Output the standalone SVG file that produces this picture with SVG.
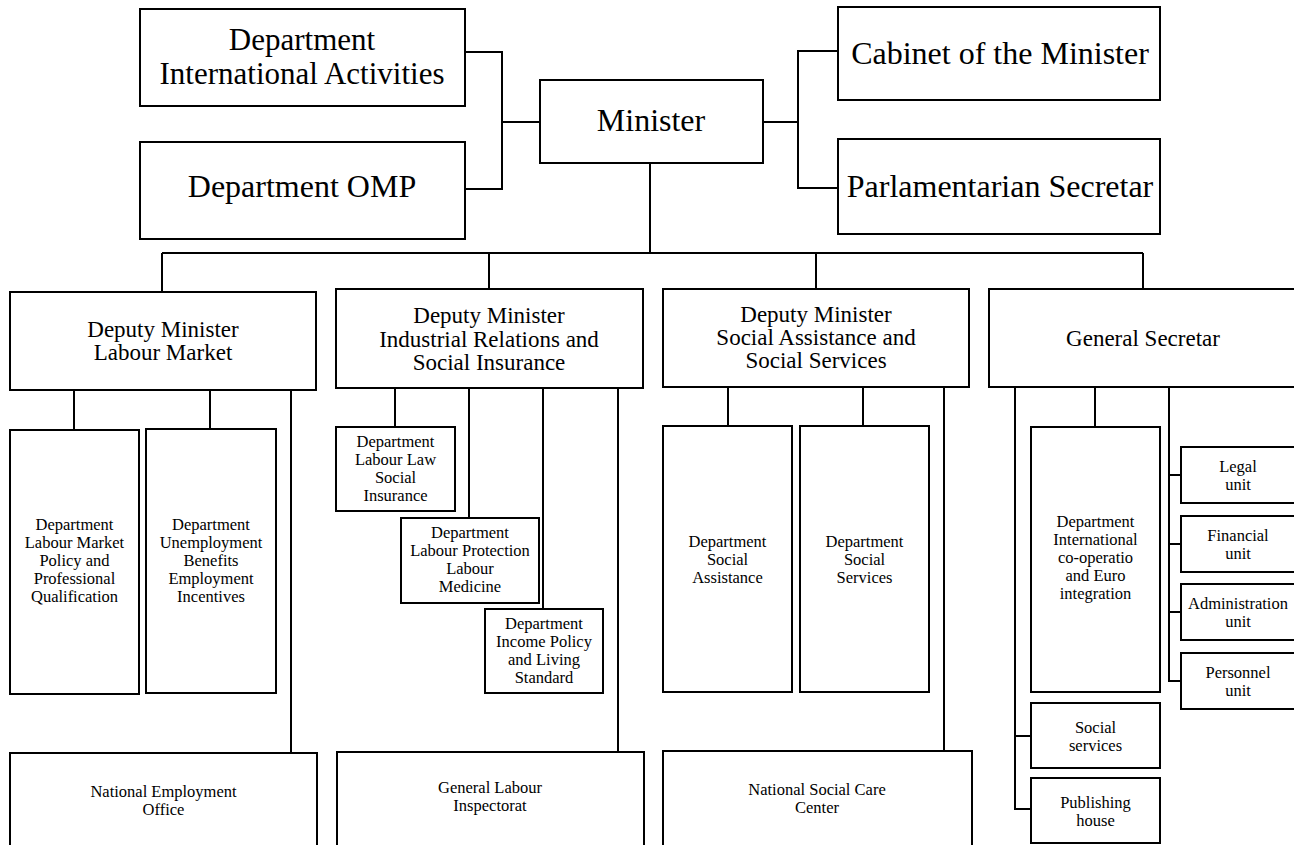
<svg xmlns="http://www.w3.org/2000/svg" width="1294" height="845" viewBox="0 0 1294 845">
<style>
.box{fill:#fff;stroke:#000;stroke-width:2}
.ln{fill:none;stroke:#000;stroke-width:2}
text{font-family:"Liberation Serif","Times New Roman",serif;fill:#000;text-anchor:middle}
.t1{font-size:32px}
.t1s{font-size:31px}
.t2{font-size:23px}
.t3{font-size:16.5px}
</style>
<rect width="1294" height="845" fill="#fff"/>
<g id="connectors">
<path class="ln" d="M465,52 H502 V189 H465 M502,122 H540"/>
<path class="ln" d="M763,122 H798 M838,51 H798 V188 H838"/>
<path class="ln" d="M650,163 V253 M162,253 H1143 M162,253 V292 M489,253 V289 M816,253 V289 M1143,253 V289"/>
<path class="ln" d="M74,390 V430 M210,390 V429 M291,390 V753"/>
<path class="ln" d="M395,388 V427 M469,388 V518 M543,388 V609 M618,388 V752"/>
<path class="ln" d="M728,387 V426 M863,387 V426 M944,387 V751"/>
<path class="ln" d="M1095,387 V427 M1015,387 V809 H1031 M1015,736 H1031"/>
<path class="ln" d="M1169,387 V681 H1181 M1169,475 H1181 M1169,544 H1181 M1169,612 H1181"/>
</g>
<g id="dept-intl"><rect class="box" x="140" y="9" width="325" height="97"/><text class="t1s" x="302" y="50">Department</text><text class="t1s" x="302" y="84">International Activities</text></g>
<g id="dept-omp"><rect class="box" x="140" y="142" width="325" height="97"/><text class="t1" x="302" y="197">Department OMP</text></g>
<g id="minister"><rect class="box" x="540" y="80" width="223" height="83"/><text class="t1" x="651" y="131">Minister</text></g>
<g id="cabinet"><rect class="box" x="838" y="7" width="322" height="93"/><text class="t1" x="1000" y="64">Cabinet of the Minister</text></g>
<g id="parl"><rect class="box" x="838" y="139" width="322" height="95"/><text class="t1" x="1000" y="197">Parlamentarian Secretar</text></g>
<g id="dm-lm"><rect class="box" x="10" y="292" width="306" height="98"/><text class="t2" x="163" y="337">Deputy Minister</text><text class="t2" x="163" y="360">Labour Market</text></g>
<g id="dm-ir"><rect class="box" x="336" y="289" width="307" height="99"/><text class="t2" x="489" y="323">Deputy Minister</text><text class="t2" x="489" y="347">Industrial Relations and</text><text class="t2" x="489" y="370">Social Insurance</text></g>
<g id="dm-sa"><rect class="box" x="663" y="289" width="306" height="98"/><text class="t2" x="816" y="322">Deputy Minister</text><text class="t2" x="816" y="345">Social Assistance and</text><text class="t2" x="816" y="368">Social Services</text></g>
<g id="gen-sec"><rect class="box" x="989" y="289" width="312" height="98"/><text class="t2" x="1143" y="346">General Secretar</text></g>
<g id="d-lmp"><rect class="box" x="10" y="430" width="129" height="264"/><text class="t3" x="74.5" y="530">Department</text><text class="t3" x="74.5" y="548">Labour Market</text><text class="t3" x="74.5" y="566">Policy and</text><text class="t3" x="74.5" y="584">Professional</text><text class="t3" x="74.5" y="602">Qualification</text></g>
<g id="d-ub"><rect class="box" x="146" y="429" width="130" height="264"/><text class="t3" x="211" y="530">Department</text><text class="t3" x="211" y="548">Unemployment</text><text class="t3" x="211" y="566">Benefits</text><text class="t3" x="211" y="584">Employment</text><text class="t3" x="211" y="602">Incentives</text></g>
<g id="neo"><rect class="box" x="10" y="753" width="307" height="94"/><text class="t3" x="163.5" y="797">National Employment</text><text class="t3" x="163.5" y="815">Office</text></g>
<g id="d-ll"><rect class="box" x="336" y="427" width="119" height="84"/><text class="t3" x="395.5" y="447">Department</text><text class="t3" x="395.5" y="465">Labour Law</text><text class="t3" x="395.5" y="483">Social</text><text class="t3" x="395.5" y="501">Insurance</text></g>
<g id="d-lp"><rect class="box" x="401" y="518" width="138" height="85"/><text class="t3" x="470" y="538">Department</text><text class="t3" x="470" y="556">Labour Protection</text><text class="t3" x="470" y="574">Labour</text><text class="t3" x="470" y="592">Medicine</text></g>
<g id="d-ip"><rect class="box" x="485" y="609" width="118" height="84"/><text class="t3" x="544" y="629">Department</text><text class="t3" x="544" y="647">Income Policy</text><text class="t3" x="544" y="665">and Living</text><text class="t3" x="544" y="683">Standard</text></g>
<g id="gli"><rect class="box" x="337" y="752" width="307" height="95"/><text class="t3" x="490" y="793">General Labour</text><text class="t3" x="490" y="811">Inspectorat</text></g>
<g id="d-sa"><rect class="box" x="663" y="426" width="129" height="266"/><text class="t3" x="727.5" y="547">Department</text><text class="t3" x="727.5" y="565">Social</text><text class="t3" x="727.5" y="583">Assistance</text></g>
<g id="d-ss"><rect class="box" x="800" y="426" width="129" height="266"/><text class="t3" x="864.5" y="547">Department</text><text class="t3" x="864.5" y="565">Social</text><text class="t3" x="864.5" y="583">Services</text></g>
<g id="nscc"><rect class="box" x="663" y="751" width="309" height="96"/><text class="t3" x="817" y="795">National Social Care</text><text class="t3" x="817" y="813">Center</text></g>
<g id="d-ic"><rect class="box" x="1031" y="427" width="129" height="265"/><text class="t3" x="1095.5" y="527">Department</text><text class="t3" x="1095.5" y="545">International</text><text class="t3" x="1095.5" y="563">co-operatio</text><text class="t3" x="1095.5" y="581">and Euro</text><text class="t3" x="1095.5" y="599">integration</text></g>
<g id="soc-serv"><rect class="box" x="1031" y="703" width="129" height="65"/><text class="t3" x="1095.5" y="733">Social</text><text class="t3" x="1095.5" y="751">services</text></g>
<g id="publ"><rect class="box" x="1031" y="778" width="129" height="65"/><text class="t3" x="1095.5" y="808">Publishing</text><text class="t3" x="1095.5" y="826">house</text></g>
<g id="legal"><rect class="box" x="1181" y="447" width="120" height="56"/><text class="t3" x="1238" y="472">Legal</text><text class="t3" x="1238" y="490">unit</text></g>
<g id="fin"><rect class="box" x="1181" y="516" width="120" height="56"/><text class="t3" x="1238" y="541">Financial</text><text class="t3" x="1238" y="559">unit</text></g>
<g id="adm"><rect class="box" x="1181" y="584" width="120" height="56"/><text class="t3" x="1238" y="609">Administration</text><text class="t3" x="1238" y="627">unit</text></g>
<g id="pers"><rect class="box" x="1181" y="653" width="120" height="56"/><text class="t3" x="1238" y="678">Personnel</text><text class="t3" x="1238" y="696">unit</text></g>
</svg>
